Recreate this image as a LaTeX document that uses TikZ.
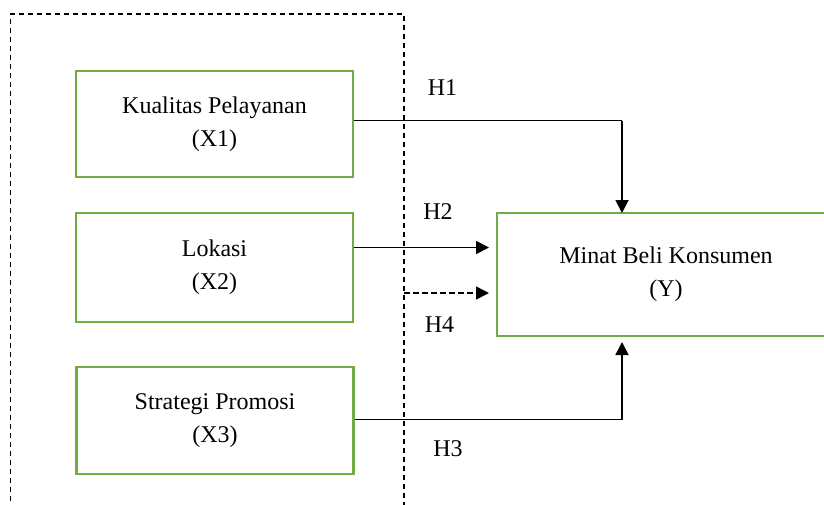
\documentclass[tikz,border=0pt]{standalone}
\usepackage{fontspec}
\setmainfont{Liberation Serif}
\usetikzlibrary{arrows.meta}
\definecolor{boxgreen}{RGB}{112,173,71}
\begin{document}
\begin{tikzpicture}[x=1pt,y=-1pt,
  varbox/.style={draw=boxgreen,line width=2.4pt,rectangle,inner sep=0pt,align=center,
    font=\fontsize{24}{33}\selectfont},
  hlabel/.style={font=\fontsize{24}{28}\selectfont,inner sep=0pt},
  conn/.style={draw=black,line width=1.8pt,-{Triangle[length=13pt,width=13pt]}},
  dashconn/.style={conn,line width=1.5pt,dash pattern=on 5.5pt off 3.5pt},
  group/.style={draw=black,line width=1.7pt,dash pattern=on 5.5pt off 3.5pt}]
\clip (0,0) rectangle (824,504);
\fill[white] (0,0) rectangle (824,504);
% dashed group frame (open at the bottom)
\draw[group] (10.5,510) -- (10.5,14) -- (404,14) -- (404,510);
\coordinate (gr) at (404,293);
% variable boxes
\node[varbox,minimum width=277pt,minimum height=106pt] (k1) at (214.5,124) {Kualitas Pelayanan\\(X1)};
\node[varbox,minimum width=277pt,minimum height=109pt] (k2) at (214.5,267.5) {Lokasi\\(X2)};
\node[varbox,minimum width=277pt,minimum height=107pt] (k3) at (215,420.5) {Strategi Promosi\\(X3)};
\node[varbox,minimum width=338pt,minimum height=123pt] (y) at (666,274.5) {Minat Beli Konsumen\\(Y)};
% target points
\coordinate (t1) at (622,213);
\coordinate (t2) at (497,247.5);
\coordinate (t3) at (622,336);
\coordinate (t4) at (497,293);
% connectors
\draw[line width=1.2pt] (k1.east |- 0,120.5) -- (622,120.5);
\draw[conn] (622,120.5) -- (t1);
\draw[conn,shorten >=8pt] (k2.east |- 0,247.5) -- (t2);
\draw[line width=1.2pt] (k3.east |- 0,419.5) -- (622,419.5);
\draw[conn,shorten >=6pt] (622,419.5) -- (t3);
\draw[dashconn,shorten >=8pt] (gr) -- (t4);
% labels
\node[hlabel] (h1) at (442.5,88) {H1};
\node[hlabel] (h2) at (438,212) {H2};
\node[hlabel] (h4) at (439.5,325) {H4};
\node[hlabel] (h3) at (448,448.5) {H3};
\end{tikzpicture}
\end{document}
